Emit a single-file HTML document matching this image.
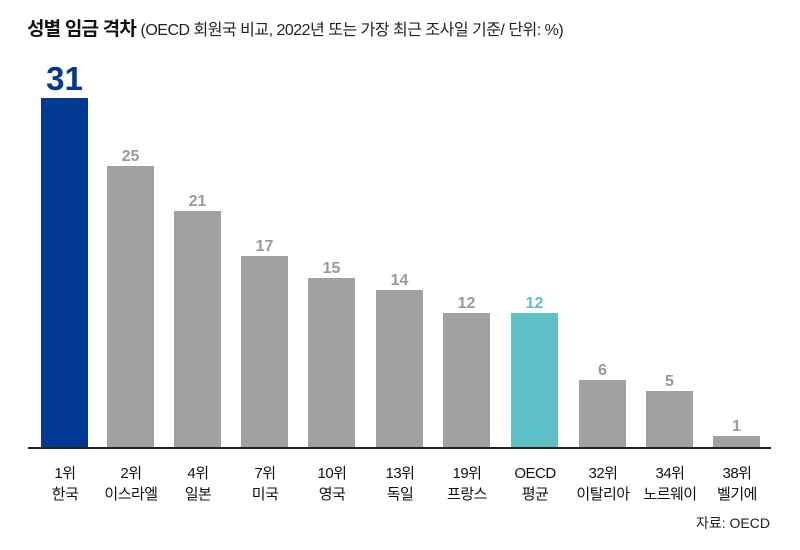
<!DOCTYPE html>
<html><head><meta charset="utf-8"><style>
body{margin:0;width:800px;height:550px;background:#fff;position:relative;overflow:hidden;font-family:"Liberation Sans","Noto Sans CJK KR",sans-serif;}
.t{position:absolute;left:27px;top:14px;font-size:19px;font-weight:bold;color:#111;white-space:nowrap;letter-spacing:-0.8px}
.t span{font-weight:normal;font-size:16px;color:#222;letter-spacing:-0.5px}
.b{position:absolute;width:47px;background:#a0a0a0}
.v{position:absolute;width:47px;text-align:center;font-weight:bold;font-size:16px;color:#999}
.l{position:absolute;width:80px;text-align:center;font-size:15px;line-height:21px;color:#111;letter-spacing:-0.5px}
.ax{position:absolute;left:28px;top:447px;width:743px;height:2px;background:#222}
.s{position:absolute;right:30px;top:513px;font-size:14px;color:#222}
</style></head><body>
<div class="t">성별 임금 격차 <span>(OECD 회원국 비교, 2022년 또는 가장 최근 조사일 기준/ 단위: %)</span></div>
<div class="b" style="left:41px;top:98px;height:349px;background:#003893"></div>
<div class="v" style="left:41px;top:60px;font-size:33px;color:#003893">31</div>
<div class="b" style="left:107px;top:166px;height:281px"></div><div class="v" style="left:107px;top:148px">25</div>
<div class="b" style="left:174px;top:211px;height:236px"></div><div class="v" style="left:174px;top:193px">21</div>
<div class="b" style="left:241px;top:256px;height:191px"></div><div class="v" style="left:241px;top:238px">17</div>
<div class="b" style="left:308px;top:278px;height:169px"></div><div class="v" style="left:308px;top:260px">15</div>
<div class="b" style="left:376px;top:290px;height:157px"></div><div class="v" style="left:376px;top:272px">14</div>
<div class="b" style="left:443px;top:313px;height:134px"></div><div class="v" style="left:443px;top:295px">12</div>
<div class="b" style="left:511px;top:313px;height:134px;background:#5ec0c6"></div><div class="v" style="left:511px;top:295px;color:#5ec0c6">12</div>
<div class="b" style="left:579px;top:380px;height:67px"></div><div class="v" style="left:579px;top:362px">6</div>
<div class="b" style="left:646px;top:391px;height:56px"></div><div class="v" style="left:646px;top:373px">5</div>
<div class="b" style="left:713px;top:436px;height:11px"></div><div class="v" style="left:713px;top:418px">1</div>
<div class="ax"></div>
<div class="l" style="left:25px;top:463px">1위<br>한국</div>
<div class="l" style="left:91px;top:463px">2위<br>이스라엘</div>
<div class="l" style="left:158px;top:463px">4위<br>일본</div>
<div class="l" style="left:225px;top:463px">7위<br>미국</div>
<div class="l" style="left:292px;top:463px">10위<br>영국</div>
<div class="l" style="left:360px;top:463px">13위<br>독일</div>
<div class="l" style="left:427px;top:463px">19위<br>프랑스</div>
<div class="l" style="left:495px;top:463px">OECD<br>평균</div>
<div class="l" style="left:563px;top:463px">32위<br>이탈리아</div>
<div class="l" style="left:630px;top:463px">34위<br>노르웨이</div>
<div class="l" style="left:697px;top:463px">38위<br>벨기에</div>
<div class="s">자료: OECD</div>
</body></html>
